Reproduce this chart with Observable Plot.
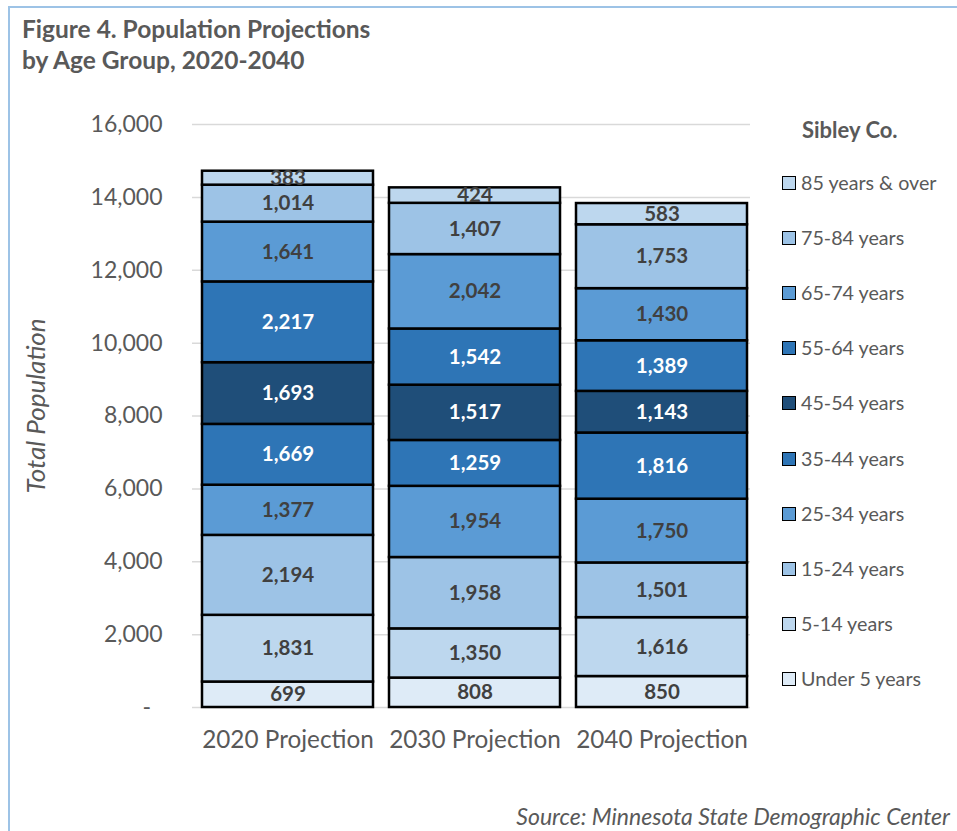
<!DOCTYPE html>
<html>
<head>
<meta charset="utf-8">
<script src="https://cdn.jsdelivr.net/npm/d3@7"></script>
<script src="https://cdn.jsdelivr.net/npm/@observablehq/plot@0.6"></script>
<style>
  html, body { margin: 0; padding: 0; background: #fff; }
  #wrap { position: relative; width: 957px; height: 831px; overflow: hidden; font-family: Lato, "Open Sans", sans-serif; color: #595959; }
  #border { position: absolute; left: 8px; top: 6px; width: 1000px; height: 1000px; border-left: 2.5px solid #9dc3e6; border-top: 2.5px solid #9dc3e6; }
  #title { position: absolute; left: 22px; top: 13px; font-weight: bold; font-size: 24.5px; line-height: 31px; color: #595959; white-space: nowrap; }
  #chart { position: absolute; left: 0; top: 0; }
  #ytitle { position: absolute; left: 35px; top: 406px; transform: translate(-50%, -50%) rotate(-90deg); font-style: italic; font-size: 26px; white-space: nowrap; }
  #legend { position: absolute; left: 782px; top: 0; }
  #legtitle { position: absolute; left: 20px; top: 116px; font-weight: bold; font-size: 22px; white-space: nowrap; color: #595959; }
  .item { position: absolute; left: 0; white-space: nowrap; font-size: 19.7px; height: 22px; line-height: 22px; }
  .sw { position: absolute; left: 0; top: 4px; width: 12px; height: 12px; border: 1.5px solid #000; }
  .lab { position: absolute; left: 19px; top: 0; }
  #source { position: absolute; right: 7px; top: 802px; font-style: italic; font-size: 23px; white-space: nowrap; }
</style>
</head>
<body>
<div id="wrap">
  <div id="border"></div>
  <div id="title">Figure 4. Population Projections<br>by Age Group, 2020-2040</div>
  <div id="chart"></div>
  <div id="ytitle">Total Population</div>
  <div id="legend"><div id="legtitle">Sibley Co.</div></div>
  <div id="source">Source: Minnesota State Demographic Center</div>
</div>
<script>
const years = ["2020 Projection", "2030 Projection", "2040 Projection"];
const groups = ["Under 5 years", "5-14 years", "15-24 years", "25-34 years", "35-44 years", "45-54 years", "55-64 years", "65-74 years", "75-84 years", "85 years & over"];
const colors = ["#deebf7", "#bdd7ee", "#9dc3e6", "#5b9bd5", "#2e75b6", "#1f4e79", "#2e75b6", "#5b9bd5", "#9dc3e6", "#bdd7ee"];
const v2020 = [699, 1831, 2194, 1377, 1669, 1693, 2217, 1641, 1014, 383];
const v2030 = [808, 1350, 1958, 1954, 1259, 1517, 1542, 2042, 1407, 424];
const v2040 = [850, 1616, 1501, 1750, 1816, 1143, 1389, 1430, 1753, 583];
const yTicks = [0, 2000, 4000, 6000, 8000, 10000, 12000, 14000, 16000];
const darkGroups = ["35-44 years", "45-54 years", "55-64 years"];

const series = [v2020, v2030, v2040];
const rows = [];
years.forEach((yr, i) => {
  let cum = 0;
  groups.forEach((g, j) => {
    const v = series[i][j];
    rows.push({year: yr, group: g, value: v, mid: cum + v / 2});
    cum += v;
  });
});
const fmt = d3.format(",");

const chart = Plot.plot({
  width: 957,
  height: 780,
  marginLeft: 192,
  marginRight: 207,
  marginTop: 124,
  marginBottom: 73,
  style: {fontFamily: "Lato, 'Open Sans', sans-serif", color: "#595959", background: "transparent", overflow: "visible"},
  x: {domain: years, range: [202, 747], paddingInner: 0.0856, paddingOuter: 0, label: null},
  y: {domain: [0, 16000], label: null},
  color: {domain: groups, range: colors},
  marks: [
    Plot.gridY(yTicks, {stroke: "#d9d9d9", strokeOpacity: 1, strokeWidth: 1.5}),
    Plot.axisY({ticks: yTicks, tickSize: 0, tickPadding: 30, fontSize: 23, label: null,
      tickFormat: d => d === 0 ? "-\u2002" : fmt(d)}),
    Plot.axisX({tickSize: 0, tickPadding: 23, fontSize: 24.3, label: null}),
    Plot.barY(rows, {x: "year", y: "value", fill: "group", order: groups, stroke: "#000", strokeWidth: 2.5}),
    Plot.text(rows.filter(d => !darkGroups.includes(d.group)), {x: "year", y: "mid", text: d => fmt(d.value), fill: "#404040", fontSize: 20.5, fontWeight: "bold"}),
    Plot.text(rows.filter(d => darkGroups.includes(d.group)), {x: "year", y: "mid", text: d => fmt(d.value), fill: "#ffffff", fontSize: 20.5, fontWeight: "bold"})
  ]
});
document.getElementById("chart").appendChild(chart);

const legend = document.getElementById("legend");
const legendOrder = groups.map((g, i) => ({g, c: colors[i]})).reverse();
legendOrder.forEach((d, i) => {
  const item = document.createElement("div");
  item.className = "item";
  item.style.top = (172 + i * 55.1) + "px";
  const sw = document.createElement("div");
  sw.className = "sw";
  sw.style.background = d.c;
  const lab = document.createElement("div");
  lab.className = "lab";
  lab.textContent = d.g;
  item.appendChild(sw);
  item.appendChild(lab);
  legend.appendChild(item);
});
</script>
</body>
</html>
